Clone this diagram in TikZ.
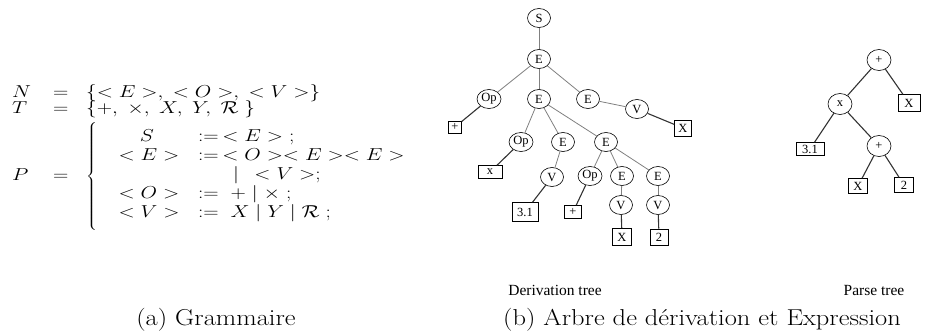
\documentclass[tikz,border=0pt]{standalone}
\usepackage{graphicx}
\usepackage{fontspec}
\newfontfamily\treefont{Liberation Serif}
\usetikzlibrary{shapes.geometric}
\newcommand{\fxs}[1]{\scalebox{1.23}[1]{#1}}
\newcommand{\cxs}[1]{\scalebox{1.15}[1]{#1}}
\begin{document}
\begin{tikzpicture}[x=1pt,y=-1pt,
  circ/.style={draw,ellipse,line width=0.6pt,minimum width=23pt,minimum height=19pt,inner sep=0pt,font=\treefont\fontsize{12.5}{14}\selectfont},
  pcirc/.style={circ,minimum width=24pt,minimum height=21pt},
  leaf/.style={draw,rectangle,line width=0.6pt,minimum width=17pt,minimum height=15pt,inner sep=1pt,font=\treefont\fontsize{12.5}{14}\selectfont},
  dedge/.style={draw=gray,line width=0.8pt},
  ledge/.style={draw=black!80,line width=1.1pt},
  pedge/.style={draw=black!80,line width=1.1pt},
  fm/.style={anchor=base west,inner sep=0pt,font=\fontsize{18}{20}\selectfont},
  fmc/.style={anchor=base,inner sep=0pt,font=\fontsize{18}{20}\selectfont},
  captext/.style={inner sep=0pt,font=\fontsize{23}{26}\selectfont},
  subtext/.style={inner sep=0pt,font=\treefont\fontsize{15.5}{17}\selectfont}]
\useasboundingbox (0,0) rectangle (940,333);
% ---------- grammar ----------
\node[fm] (n1) at (12,97) {\fxs{$N$}};
\node[fm] (n2) at (53,97) {\fxs{$=$}};
\node[fm] (n3) at (86,97) {\fxs{$\{<E>,\;<O>,\;<V>\}$}};
\node[fm] (t1) at (12,113) {\fxs{$T$}};
\node[fm] (t2) at (53,113) {\fxs{$=$}};
\node[fm] (t3) at (86,113) {\fxs{$\{+,\;\times,\;X,\;Y,\;\mathcal{R}\;\}$}};
\node[fm] (p1) at (12,180) {\fxs{$P$}};
\node[fm] (p2) at (53,180) {\fxs{$=$}};
\node[anchor=west,inner sep=0pt,font=\fontsize{18}{20}\selectfont] (br) at (86,177) {\fxs{$\left\{\vrule height 51pt depth 51pt width 0pt\right.$}};
\node[fmc] (r1a) at (147,141) {\fxs{$S$}};
\node[fm] (r1b) at (198,141) {\fxs{$:=\,<E>\;;$}};
\node[fmc] (r2a) at (149,160) {\fxs{$<E>$}};
\node[fm] (r2b) at (198,160) {\fxs{$:=\,<O><E><E>$}};
\node[fm] (r3b) at (233,179) {\fxs{$|\;\,<V>;$}};
\node[fmc] (r4a) at (149,198) {\fxs{$<O>$}};
\node[fm] (r4b) at (198,198) {\fxs{$:=\;+\mid\times\;;$}};
\node[fmc] (r5a) at (149,217) {\fxs{$<V>$}};
\node[fm] (r5b) at (198,217) {\fxs{$:=\;X\mid Y\mid\mathcal{R}\;;$}};
% ---------- derivation tree ----------
\node[circ] (S) at (539,18) {S};
\node[circ] (E0) at (539,59) {E};
\node[circ,minimum width=24pt] (Op1) at (489,99) {Op};
\node[circ] (E1) at (539,99) {E};
\node[circ] (E2) at (588,99) {E};
\node[circ] (V1) at (637,109) {V};
\node[leaf,minimum width=13pt,minimum height=12pt] (L1) at (455,127) {+};
\node[leaf,minimum width=17pt,minimum height=16pt] (L2) at (683,128) {X};
\node[circ,minimum width=24pt] (Op2) at (521,142) {Op};
\node[circ] (E3) at (563,142) {E};
\node[circ] (E4) at (606,142) {E};
\node[leaf,minimum width=24pt,minimum height=13pt] (L3) at (490,172) {x};
\node[circ] (V2) at (552,177) {V};
\node[circ,minimum width=24pt] (Op3) at (590,176) {Op};
\node[circ] (E5) at (622,176) {E};
\node[circ] (E6) at (658,176) {E};
\node[leaf,minimum width=26pt,minimum height=19pt] (L4) at (525,212) {3.1};
\node[leaf,minimum width=17pt,minimum height=13pt] (L5) at (573,212) {+};
\node[circ] (V3) at (621,205) {V};
\node[circ] (V4) at (658,205) {V};
\node[leaf,minimum width=19pt,minimum height=17pt] (L6) at (622,237) {X};
\node[leaf,minimum width=18pt,minimum height=16pt] (L7) at (659,237) {2};
\draw[dedge] (S) -- (E0);
\draw[dedge] (E0) -- (Op1);
\draw[dedge] (E0) -- (E1);
\draw[dedge] (E0) -- (E2);
\draw[dedge] (E2) -- (V1);
\draw[ledge] (Op1) -- (L1);
\draw[ledge] (V1) -- (L2);
\draw[dedge] (E1) -- (Op2);
\draw[dedge] (E1) -- (E3);
\draw[dedge] (E1) -- (E4);
\draw[ledge] (Op2) -- (L3);
\draw[dedge] (E3) -- (V2);
\draw[ledge] (V2) -- (L4);
\draw[dedge] (E4) -- (Op3);
\draw[dedge] (E4) -- (E5);
\draw[dedge] (E4) -- (E6);
\draw[ledge] (Op3) -- (L5);
\draw[dedge] (E5) -- (V3);
\draw[dedge] (E6) -- (V4);
\draw[ledge] (V3) -- (L6);
\draw[ledge] (V4) -- (L7);
% ---------- parse tree ----------
\node[pcirc] (P0) at (879,60) {+};
\node[pcirc] (P1) at (840,104) {x};
\node[leaf,minimum width=22pt,minimum height=17pt] (Q1) at (909,103) {X};
\node[leaf,minimum width=28pt,minimum height=13pt] (Q2) at (810,149) {3.1};
\node[pcirc] (P2) at (879,146) {+};
\node[leaf,minimum width=19pt,minimum height=15pt] (Q3) at (858,186) {X};
\node[leaf,minimum width=19pt,minimum height=15pt] (Q4) at (904,185) {2};
\draw[pedge] (P0) -- (P1);
\draw[pedge] (P0) -- (Q1);
\draw[pedge] (P1) -- (Q2);
\draw[pedge] (P1) -- (P2);
\draw[pedge] (P2) -- (Q3);
\draw[pedge] (P2) -- (Q4);
% ---------- labels ----------
\node[subtext] (d) at (555,290) {Derivation tree};
\node[subtext] (pt) at (874,290) {Parse tree};
\node[captext,anchor=base] (ca) at (216,325) {\cxs{(a) Grammaire}};
\node[captext,anchor=base west] (cb) at (503,325) {\cxs{(b) Arbre de dérivation et Expression}};
\end{tikzpicture}
\end{document}
